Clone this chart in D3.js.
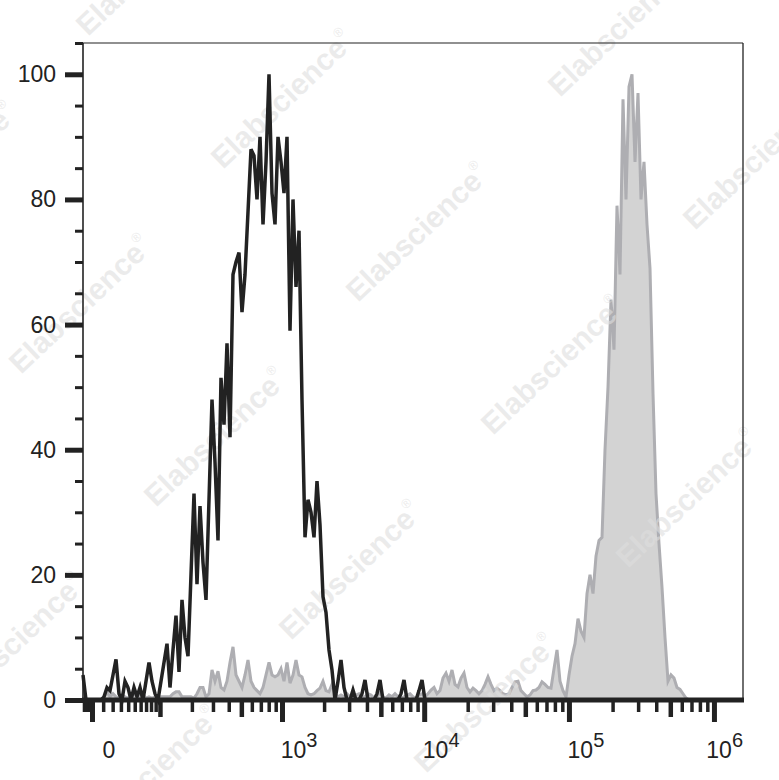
<!DOCTYPE html>
<html><head><meta charset="utf-8">
<script src="https://cdn.jsdelivr.net/npm/d3@7"></script>
<style>body{margin:0;background:#fff}svg{display:block}</style>
</head><body><svg id="c" width="779" height="780"></svg>
<script>
// ---- data (display channels, 220 channels across the x axis) ----
const channelCount = 220;
const blackStart = 0;
const blackCounts = [4,0,0,0,0,0,0,0.5,2,1.5,
 4,6.5,1,0,3,2,0,2,0.5,2,
 0,3,6,3,1,0,3,6,9,2,
 8,13.5,4.5,16,10,7,20,33,18.5,31,
 22,16,32,48,38,25.5,51.5,44,57,42,
 68,70,71.5,62,68,78,88,87,80,90,
 76,86,100,81,76,90,86,81,90,59,
 80,66,75,48,26,32,30,26,35,28,
 16.5,14,8,4.8,0,3,6.4,2,0,0,
 1.6,0,0,1,3.2,0,0,0,1,3.2,
 0,0,0,0,0,0,1,3.2,0,0,
 0,0,1.5,3.2,0,0];
const grayStart = 7;
const grayCounts = [0.5,1.3,0.5,1,
 0.5,0.3,0.8,0.5,0.3,0.5,0.8,1,0.5,0.8,0.3,0.5,0.3,0.5,0.3,
 0.5,0.5,0.5,0.5,1,1.3,1.3,0.5,0.5,0.5,0.5,0.3,1,2,2,0.5,1,
 4.8,3,4.6,2,1.6,3,6,8.5,4,3,2,4,6.4,3,2,1.5,1,2,4,6,4,3.7,4,5,3,6,2.7,4,6.4,4,3.7,2,1,0.8,1,1.5,1.9,3,1.5,1.3,2.5,1,0.5,
 0.8,0.5,1,0.5,0.3,0.8,1,0.5,0.5,1,0.8,0.3,0.5,1.2,0.5,0.3,0.8,0.5,1,0.5,0.3,0.5,0.8,1,0.5,0.3,0.8,1,0.5,1,
 1.6,2,1,1.5,3.5,4.3,3,4.8,2.5,2.1,3.5,4.3,2,1.3,1.9,1.5,1,1.5,2.5,3.7,2.5,1.5,1.9,1.5,1,0.8,1,2,2.9,3,1.5,1,0.5,0.8,1.5,1.6,2,2.9,2.5,2,1.9,5,8,3,1.5,0.5,4,7,9,13,11,10,17,20,17,23,25.5,26,40,50,64,56,79,68,96,80,98,100,86,97,80,86,76,69,49,33,25,18,10,3,4,3.5,2,1.7,1,0.3,0];

// ---- axis ticks / labels ----
const xMajorTicks = [0, 1e3, 1e4, 1e5, 1e6];
const xMajorBase = ["0", "10", "10", "10", "10"];
const xMajorSup = ["", "3", "4", "5", "6"];
const xMidTicks = [100, 500, 5e3, 5e4, 5e5];
const xNegTicks = [-7, -5, -3, -1.5];
const xSmallTicks = [10, 20, 30, 40, 50, 60, 70, 80, 90];
const decadeMultipliers = [2, 3, 4, 6, 7, 8, 9];
const decades = [1e2, 1e3, 1e4, 1e5];
const yMajorTicks = [0, 20, 40, 60, 80, 100];
const yMinorTicks = [5,10,15,25,30,35,45,50,55,65,70,75,85,90,95,105];
const watermarkText = "Elabscience";

// ---- layout ----
const plotLeft = 83, plotRight = 743, plotTop = 43, plotBottom = 700;
const ink = "#222";
const font = "'Liberation Sans', Arial, sans-serif";
const svg = d3.select("#c");

const xAxisScale = d3.scaleSymlog().constant(51.5).domain([-7.9, 1.586e6]).range([plotLeft, plotRight]);
const chan = d3.scaleLinear().domain([0, channelCount]).range([plotLeft, plotRight]);
const y = d3.scaleLinear().domain([0, 105]).range([plotBottom, plotTop]);

// gray filled histogram
const grayData = grayCounts.map((v, i) => [grayStart + i, v]);
svg.append("path").datum(grayData)
  .attr("d", d3.area().x(d => chan(d[0])).y0(y(0)).y1(d => y(d[1])))
  .attr("fill", "#d3d3d3").attr("stroke", "#aeaeb2").attr("stroke-width", 3);

// watermarks
const wm = svg.append("g").attr("font-family", font).attr("font-weight", "bold")
  .attr("fill", "#dedede").attr("fill-opacity", 0.6);
for (let i = -3; i <= 6; i++) for (let j = -3; j <= 4; j++) {
  const sx = 223 + i * 135 - j * 202, sy = 170 + i * 133 + j * 205;
  if (sx + 150 < 20 || sx > 760 || sy < 20 || sy - 143 > 760) continue;
  const t = wm.append("text").attr("transform", `translate(${sx},${sy}) rotate(-43.5)`).attr("font-size", 30);
  t.append("tspan").text(watermarkText);
  t.append("tspan").attr("font-size", 13).attr("font-weight", "normal").attr("dy", -16).text("®");
}

// black histogram line
const blackData = blackCounts.map((v, i) => [blackStart + i, v]);
svg.append("path").datum(blackData)
  .attr("d", d3.line().x(d => chan(d[0])).y(d => y(d[1])))
  .attr("fill", "none").attr("stroke", ink).attr("stroke-width", 3.5);

// frame
svg.append("line").attr("x1", plotLeft).attr("x2", plotRight).attr("y1", plotTop).attr("y2", plotTop).attr("stroke", ink).attr("stroke-width", 1.2);
svg.append("line").attr("x1", plotRight).attr("x2", plotRight).attr("y1", plotTop).attr("y2", plotBottom).attr("stroke", ink).attr("stroke-width", 1.3);
svg.append("line").attr("x1", plotLeft).attr("x2", plotLeft).attr("y1", plotTop).attr("y2", plotBottom).attr("stroke", ink).attr("stroke-width", 1.6);

function tickLayer(gen, tr, vals, size, width) {
  const g = svg.append("g").attr("transform", tr)
    .call(gen.tickValues(vals).tickSize(size).tickFormat(""));
  g.select(".domain").remove();
  g.selectAll(".tick line").attr("stroke", ink).attr("stroke-width", width);
  g.selectAll(".tick text").remove();
}
const xMinorAll = xNegTicks.concat(xSmallTicks);
decades.forEach(d => decadeMultipliers.forEach(m => xMinorAll.push(m * d)));
tickLayer(d3.axisBottom(xAxisScale), `translate(0,${plotBottom})`, xMinorAll, 12, 3.5);
tickLayer(d3.axisBottom(xAxisScale), `translate(0,${plotBottom})`, xMidTicks, 17, 4.5);
tickLayer(d3.axisBottom(xAxisScale), `translate(0,${plotBottom})`, xMajorTicks, 22, 5);
tickLayer(d3.axisLeft(y), `translate(${plotLeft},0)`, yMinorTicks, 8, 3);
tickLayer(d3.axisLeft(y), `translate(${plotLeft},0)`, yMajorTicks, 18, 5);

// bottom axis line (thick)
svg.append("line").attr("x1", plotLeft - 1).attr("x2", plotRight + 1).attr("y1", plotBottom).attr("y2", plotBottom)
  .attr("stroke", ink).attr("stroke-width", 5);

// y labels
svg.append("g").selectAll("text").data(yMajorTicks).join("text")
  .attr("x", 56).attr("y", d => y(d) + 8).attr("text-anchor", "end")
  .attr("font-family", font).attr("font-size", 23).attr("fill", ink).text(d => d);

// x labels
xMajorTicks.forEach((v, i) => {
  const t = svg.append("text").attr("y", 758).attr("font-family", font)
    .attr("font-size", 23).attr("fill", ink).attr("text-anchor", "middle");
  t.append("tspan").text(xMajorBase[i]);
  if (xMajorSup[i]) t.append("tspan").attr("dy", -11).attr("font-size", 20).text(xMajorSup[i]);
  t.attr("x", 0);
  const w = t.node().getBBox().width;
  const cx = Math.min(xAxisScale(v) + 17, plotRight - w / 2);
  t.attr("x", cx);
});
</script></body></html>
